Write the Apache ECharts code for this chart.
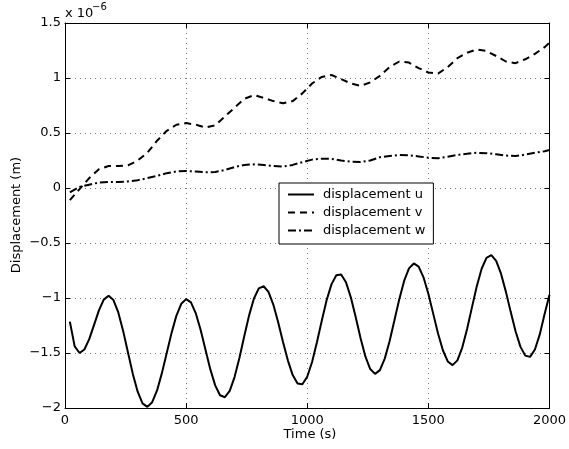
<!DOCTYPE html>
<html>
<head>
<meta charset="utf-8">
<script src="https://cdn.jsdelivr.net/npm/echarts@6/dist/echarts.min.js"></script>
<style>html,body{margin:0;padding:0;background:#fff}#chart{width:569px;height:449px}</style>
</head>
<body>
<div id="chart"></div>
<script>
// Time samples (s) for displacement u
var timeU = [20,40,60,80,100,120,140,160,180,200,220,240,260,280,300,320,340,360,380,400,
  420,440,460,480,500,520,540,560,580,600,620,640,660,680,700,720,740,760,780,800,
  820,840,860,880,900,920,940,960,980,1000,1020,1040,1060,1080,1100,1120,1140,1160,1180,1200,
  1220,1240,1260,1280,1300,1320,1340,1360,1380,1400,1420,1440,1460,1480,1500,1520,1540,1560,1580,1600,
  1620,1640,1660,1680,1700,1720,1740,1760,1780,1800,1820,1840,1860,1880,1900,1920,1940,1960,1980,2000];
// displacement u (x 1e-6 m)
var dispU = [-1.215,-1.44,-1.50,-1.468,-1.374,-1.244,-1.112,-1.015,-0.98,-1.019,-1.131,-1.299,-1.495,-1.690,-1.852,-1.958,-1.99,-1.947,-1.840,-1.683,
  -1.500,-1.317,-1.160,-1.053,-1.01,-1.040,-1.139,-1.291,-1.471,-1.649,-1.794,-1.884,-1.902,-1.845,-1.719,-1.545,-1.348,-1.158,-1.005,-0.912,
  -0.893,-0.945,-1.060,-1.220,-1.399,-1.567,-1.701,-1.777,-1.784,-1.716,-1.582,-1.403,-1.206,-1.021,-0.876,-0.794,-0.786,-0.857,-0.994,-1.173,
  -1.363,-1.531,-1.646,-1.69,-1.656,-1.551,-1.393,-1.203,-1.011,-0.845,-0.731,-0.686,-0.715,-0.812,-0.962,-1.142,-1.323,-1.475,-1.577,-1.61,
  -1.567,-1.451,-1.281,-1.085,-0.893,-0.734,-0.635,-0.611,-0.663,-0.779,-0.942,-1.126,-1.302,-1.442,-1.524,-1.535,-1.468,-1.331,-1.146,-0.97];
// Time samples (s) for displacements v and w
var timeVW = [20,60,100,140,180,220,260,300,340,380,420,460,500,540,580,620,660,700,740,780,
  820,860,900,940,980,1020,1060,1100,1140,1180,1220,1260,1300,1340,1380,1420,1460,1500,1540,1580,
  1620,1660,1700,1740,1780,1820,1860,1900,1940,1980,2000];
// displacement v (x 1e-6 m)
var dispV = [-0.11,-0.01,0.09,0.17,0.20,0.20,0.205,0.25,0.32,0.43,0.52,0.575,0.59,0.575,0.55,0.57,0.65,0.73,0.81,0.845,
  0.82,0.79,0.77,0.79,0.86,0.95,1.01,1.027,0.99,0.95,0.928,0.96,1.02,1.10,1.15,1.14,1.09,1.05,1.04,1.10,
  1.18,1.23,1.26,1.245,1.20,1.15,1.135,1.17,1.22,1.28,1.32];
// displacement w (x 1e-6 m)
var dispW = [-0.04,0.01,0.03,0.05,0.055,0.055,0.06,0.07,0.09,0.11,0.135,0.15,0.155,0.15,0.143,0.145,0.164,0.19,0.21,0.215,
  0.21,0.20,0.195,0.21,0.235,0.258,0.267,0.265,0.25,0.24,0.237,0.25,0.28,0.29,0.30,0.298,0.287,0.275,0.27,0.285,
  0.30,0.312,0.32,0.317,0.306,0.295,0.29,0.303,0.32,0.335,0.345];

var seriesNames = ['displacement u','displacement v','displacement w'];
var xTitle = 'Time (s)';
var yTitle = 'Displacement (m)';
var expBase = 'x 10';
var expPow = '\u22126';

function pairs(t, v){ return t.map(function(x,i){ return [x, v[i]]; }); }
function fmt(v){ return String(v).replace('-', '\u2212'); }

var FONT = 'DejaVu Sans';
var chart = echarts.init(document.getElementById('chart'), null, {renderer:'canvas'});
var axisCommon = {
  min: 0, max: 2000, interval: 500,
  axisLine: {show:true, onZero:false, lineStyle:{color:'#000', width:1}},
  axisTick: {show:true, inside:true, length:5, lineStyle:{color:'#000'}}
};
chart.setOption({
  animation: false,
  backgroundColor: '#fff',
  grid: {left:65, top:23, right:15, bottom:41, containLabel:false},
  xAxis: [
    Object.assign({type:'value', position:'bottom',
      axisLabel:{color:'#000', fontFamily:FONT, fontSize:13, margin:6, formatter: fmt},
      splitLine:{show:true, lineStyle:{color:'#777', width:1, type:[1,4]}}}, axisCommon),
    Object.assign({type:'value', position:'top', axisLabel:{show:false}, splitLine:{show:false}}, axisCommon)
  ],
  yAxis: [
    {type:'value', position:'left', min:-2, max:1.5, interval:0.5,
      axisLine:{show:true, onZero:false, lineStyle:{color:'#000', width:1}},
      axisTick:{show:true, inside:true, length:5, lineStyle:{color:'#000'}},
      axisLabel:{color:'#000', fontFamily:FONT, fontSize:13, margin:4, formatter: fmt},
      splitLine:{show:true, lineStyle:{color:'#777', width:1, type:[1,4]}}},
    {type:'value', position:'right', min:-2, max:1.5, interval:0.5,
      axisLine:{show:true, onZero:false, lineStyle:{color:'#000', width:1}},
      axisTick:{show:true, inside:true, length:5, lineStyle:{color:'#000'}},
      axisLabel:{show:false}, splitLine:{show:false}}
  ],
  legend: {
    orient:'vertical', left:279, top:183,
    padding:[5,8,7,8], itemGap:5, itemWidth:26, itemHeight:14,
    backgroundColor:'#fff', borderColor:'#000', borderWidth:1, borderRadius:0,
    itemStyle:{opacity:0},
    textStyle:{color:'#000', fontFamily:FONT, fontSize:13, padding:[0,0,0,4]},
    data: seriesNames
  },
  series: [
    {name:seriesNames[0], type:'line', symbol:'none', data:pairs(timeU, dispU),
      lineStyle:{color:'#000', width:2, type:'solid'}, itemStyle:{color:'#000'}},
    {name:seriesNames[1], type:'line', symbol:'none', data:pairs(timeVW, dispV),
      lineStyle:{color:'#000', width:2, type:[7,5]}, itemStyle:{color:'#000'}},
    {name:seriesNames[2], type:'line', symbol:'none', data:pairs(timeVW, dispW),
      lineStyle:{color:'#000', width:2, type:[8,3,2,3]}, itemStyle:{color:'#000'}}
  ],
  graphic: [
    {type:'text', x:310, y:435, style:{text:xTitle, font:'13px "DejaVu Sans"', fill:'#000', textAlign:'center', textVerticalAlign:'middle'}},
    {type:'text', x:17, y:215, rotation:Math.PI/2, style:{text:yTitle, font:'13px "DejaVu Sans"', fill:'#000', textAlign:'center', textVerticalAlign:'middle'}},
    {type:'text', x:65, y:14, style:{text:expBase, font:'13px "DejaVu Sans"', fill:'#000', textAlign:'left', textVerticalAlign:'middle'}},
    {type:'text', x:92, y:7, style:{text:expPow, font:'10px "DejaVu Sans"', fill:'#000', textAlign:'left', textVerticalAlign:'middle'}}
  ]
});
</script>
</body>
</html>
